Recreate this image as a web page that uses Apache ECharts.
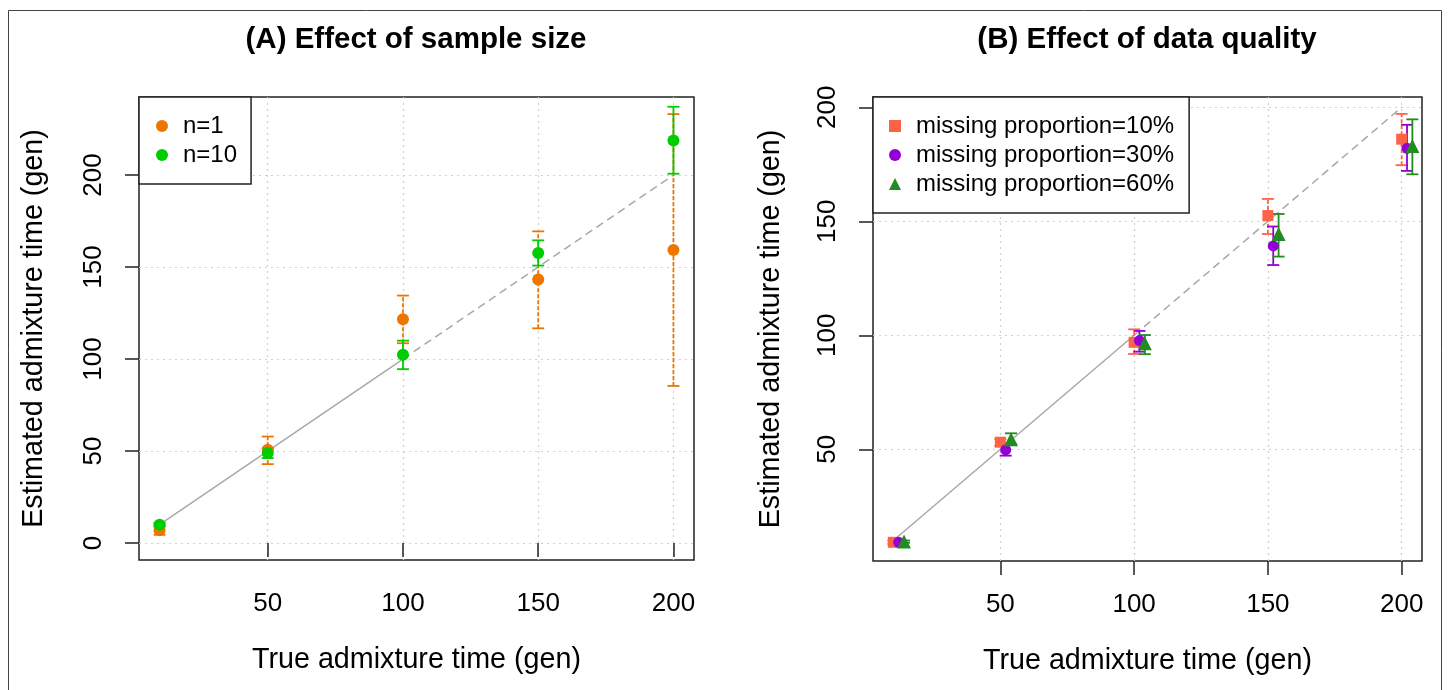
<!DOCTYPE html>
<html><head><meta charset="utf-8">
<script src="https://cdn.jsdelivr.net/npm/echarts@6/dist/echarts.min.js"></script>
<style>html,body{margin:0;padding:0;background:#fff}#chart{width:1448px;height:690px}</style>
</head><body><div id="chart"></div>
<script>
const FONT = "'Liberation Sans', Arial, Helvetica, sans-serif";

// ---- shared ----
const trueTimes = [10, 50, 100, 150, 200];
const xTicks = [50, 100, 150, 200];
const yTicksA = [0, 50, 100, 150, 200];
const yTicksB = [50, 100, 150, 200];
const diagSolid = [10, 100];
const diagDashed = [100, 200];

// ---- Panel A: effect of sample size ----
const n1Est  = [7.0, 50.7, 121.6, 143.2, 159.3];
const n1Low  = [4.5, 42.9, 108.6, 116.7, 85.4];
const n1High = [9.5, 57.9, 134.5, 169.4, 233.1];
const n10Est  = [10.0, 48.9, 102.3, 157.6, 218.8];
const n10Low  = [9.0, 46.2, 94.5, 150.8, 200.7];
const n10High = [11.0, 51.6, 110.0, 164.5, 237.1];

// ---- Panel B: effect of data quality ----
const m10Est  = [9.2, 53.1, 96.9, 152.5, 186.0];
const m10Low  = [8.5, 51.5, 91.8, 144.4, 174.6];
const m10High = [10.0, 54.5, 102.6, 159.8, 197.1];
const m30Est  = [9.2, 49.7, 97.7, 139.2, 182.0];
const m30Low  = [8.5, 47.2, 92.8, 130.8, 172.1];
const m30High = [10.0, 51.8, 101.9, 147.7, 192.3];
const m60Est  = [9.5, 54.4, 96.5, 144.4, 183.0];
const m60Low  = [9.0, 52.3, 91.7, 134.5, 170.6];
const m60High = [10.0, 57.0, 100.1, 153.2, 194.7];

const C_N1 = '#EE7600', C_N10 = '#00CD00';
const C_10 = '#FF6347', C_30 = '#9400D3', C_60 = '#228B22';

function pts(xs, ys, off) { return xs.map((x, i) => [x + off, ys[i]]); }
function bars(xs, lo, hi, off) { return xs.map((x, i) => [x + off, lo[i], hi[i]]); }
function diag(v) { return v.map(d => [d, d]); }

function errSeries(name, data, color, dash, gi) {
  return {
    type: 'custom', name: name, xAxisIndex: gi, yAxisIndex: gi, silent: true, z: 3,
    encode: { x: 0, y: [1, 2] },
    data: data,
    renderItem: function (params, api) {
      const x = api.value(0), lo = api.value(1), hi = api.value(2);
      const pl = api.coord([x, lo]), ph = api.coord([x, hi]);
      const w = 6;
      return {
        type: 'group', children: [
          { type: 'line', shape: { x1: pl[0], y1: pl[1], x2: ph[0], y2: ph[1] },
            style: { stroke: color, lineWidth: 1.8, lineDash: dash } },
          { type: 'line', shape: { x1: pl[0] - w, y1: pl[1], x2: pl[0] + w, y2: pl[1] },
            style: { stroke: color, lineWidth: 1.8 } },
          { type: 'line', shape: { x1: ph[0] - w, y1: ph[1], x2: ph[0] + w, y2: ph[1] },
            style: { stroke: color, lineWidth: 1.8 } }
        ]
      };
    }
  };
}
function scatterSeries(name, data, color, symbol, size, gi) {
  return { type: 'scatter', name: name, xAxisIndex: gi, yAxisIndex: gi, z: 4,
    symbol: symbol, symbolSize: size, data: data, itemStyle: { color: color, opacity: 1 } };
}
function diagSeries(data, dashed, gi) {
  return { type: 'line', xAxisIndex: gi, yAxisIndex: gi, silent: true, showSymbol: false, z: 2,
    data: data, lineStyle: { color: '#A8A8A8', width: 1.5, type: dashed ? [8, 5] : 'solid' } };
}

function xAxisCfg(gi) {
  return {
    type: 'value', gridIndex: gi, min: 2.4, max: 207.6,
    name: 'True admixture time (gen)', nameLocation: 'middle', nameGap: 86,
    nameTextStyle: { fontSize: 28.7, color: '#000', fontFamily: FONT },
    axisLine: { show: false },
    axisTick: { show: true, length: 14, inside: false, customValues: xTicks, lineStyle: { color: '#222', width: 1.5 } },
    axisLabel: { customValues: xTicks, fontSize: 26, color: '#000', fontFamily: FONT, margin: 31 },
    splitLine: { show: true, lineStyle: { color: '#CFCFCF', type: [2, 4], width: 1.2 } }
  };
}
function yAxisCfg(gi, min, max, ticks, gap) {
  return {
    type: 'value', gridIndex: gi, min: min, max: max,
    name: 'Estimated admixture time (gen)', nameLocation: 'middle', nameGap: gap,
    nameTextStyle: { fontSize: 28.7, color: '#000', fontFamily: FONT },
    axisLine: { show: false },
    axisTick: { show: true, length: 14, inside: false, customValues: ticks, lineStyle: { color: '#222', width: 1.5 } },
    axisLabel: { customValues: ticks, rotate: 90, fontSize: 26, color: '#000', fontFamily: FONT, margin: 32 },
    splitLine: { show: true, lineStyle: { color: '#CFCFCF', type: [2, 4], width: 1.2 } }
  };
}

const legendBase = {
  orient: 'vertical', itemGap: 5, backgroundColor: '#fff',
  borderColor: '#222', borderWidth: 1.5, borderRadius: 0,
  textStyle: { fontSize: 24, color: '#000', fontFamily: FONT, padding: [0, 0, 0, 10] },
  selectedMode: false
};

const option = {
  animation: false,
  backgroundColor: '#fff',
  title: [
    { text: '(A) Effect of sample size', left: 416, top: 25, textAlign: 'center', padding: 0,
      textStyle: { fontSize: 29.5, fontWeight: 'bold', color: '#000', fontFamily: FONT } },
    { text: '(B) Effect of data quality', left: 1147, top: 25, textAlign: 'center', padding: 0,
      textStyle: { fontSize: 29.5, fontWeight: 'bold', color: '#000', fontFamily: FONT } }
  ],
  grid: [
    { left: 139, top: 97, width: 555, height: 463, show: true, borderColor: '#222', borderWidth: 1.5, backgroundColor: 'transparent' },
    { left: 873, top: 97, width: 549, height: 464, show: true, borderColor: '#222', borderWidth: 1.5, backgroundColor: 'transparent' }
  ],
  xAxis: [xAxisCfg(0), xAxisCfg(1)],
  yAxis: [yAxisCfg(0, -9.2, 242.4, yTicksA, 90), yAxisCfg(1, 1, 204.5, yTicksB, 87)],
  legend: [
    Object.assign({}, legendBase, {
      left: 139, top: 97, padding: [17, 14, 17, 17], itemWidth: 12, itemHeight: 12,
      data: [{ name: 'n=1', icon: 'circle' }, { name: 'n=10', icon: 'circle' }]
    }),
    Object.assign({}, legendBase, {
      left: 873, top: 97, padding: [17, 15, 17, 16], itemWidth: 12, itemHeight: 12,
      data: [{ name: 'missing proportion=10%', icon: 'rect' },
             { name: 'missing proportion=30%', icon: 'circle' },
             { name: 'missing proportion=60%', icon: 'triangle' }]
    })
  ],
  graphic: [
    { type: 'rect', shape: { x: 8.5, y: 10.5, width: 1433, height: 720 },
      style: { fill: 'none', stroke: '#444', lineWidth: 1 }, silent: true, z: 100 }
  ],
  series: [
    diagSeries(diag(diagSolid), false, 0),
    diagSeries(diag(diagDashed), true, 0),
    scatterSeries('n=1', pts(trueTimes, n1Est, 0), C_N1, 'circle', 12, 0),
    errSeries('n=1 err', bars(trueTimes, n1Low, n1High, 0), C_N1, [4, 2], 0),
    scatterSeries('n=10', pts(trueTimes, n10Est, 0), C_N10, 'circle', 12, 0),
    errSeries('n=10 err', bars(trueTimes, n10Low, n10High, 0), C_N10, null, 0),

    diagSeries(diag(diagSolid), false, 1),
    diagSeries(diag(diagDashed), true, 1),
    scatterSeries('missing proportion=10%', pts(trueTimes, m10Est, 0), C_10, 'rect', 11, 1),
    errSeries('m10 err', bars(trueTimes, m10Low, m10High, 0), C_10, [4, 2], 1),
    scatterSeries('missing proportion=30%', pts(trueTimes, m30Est, 2), C_30, 'circle', 11, 1),
    errSeries('m30 err', bars(trueTimes, m30Low, m30High, 2), C_30, null, 1),
    scatterSeries('missing proportion=60%', pts(trueTimes, m60Est, 4), C_60, 'triangle', 14, 1),
    errSeries('m60 err', bars(trueTimes, m60Low, m60High, 4), C_60, null, 1)
  ]
};

const chart = echarts.init(document.getElementById('chart'));
chart.setOption(option);
</script>
</body></html>
